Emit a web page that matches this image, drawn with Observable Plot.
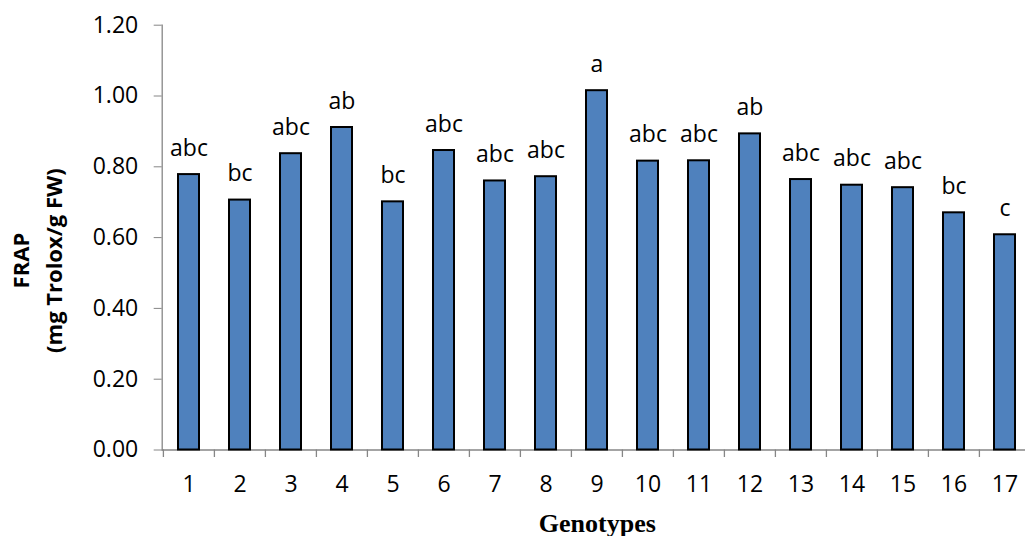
<!DOCTYPE html>
<html>
<head>
<meta charset="utf-8">
<script src="https://cdn.jsdelivr.net/npm/d3@7"></script>
<script src="https://cdn.jsdelivr.net/npm/@observablehq/plot@0.6"></script>
<style>
  html, body { margin: 0; padding: 0; background: #fff; }
  #chart svg { display: block; }
</style>
</head>
<body>
<div id="chart"></div>
<script>
const genotypes = ["1","2","3","4","5","6","7","8","9","10","11","12","13","14","15","16","17"];
const frap = [0.778, 0.706, 0.837, 0.911, 0.701, 0.846, 0.760, 0.772, 1.015, 0.816, 0.817, 0.893, 0.764, 0.748, 0.741, 0.670, 0.608];
const letters = ["abc","bc","abc","ab","bc","abc","abc","abc","a","abc","abc","ab","abc","abc","abc","bc","c"];
const yTicks = [0, 0.2, 0.4, 0.6, 0.8, 1.0, 1.2];
const yTitle1 = "FRAP";
const yTitle2 = "(mg Trolox/g FW)";
const xTitle = "Genotypes";

const data = genotypes.map((g, i) => ({g, v: frap[i], l: letters[i]}));

const W = 1025, H = 536;
const mL = 161.7, mR = -7, mT = 24.7, mB = 86.5;
const step = (W - mR - mL) / genotypes.length;
const gray = "#868686";

const chart = Plot.plot({
  width: W, height: H,
  marginLeft: mL, marginRight: mR, marginTop: mT, marginBottom: mB,
  style: {fontFamily: "'Open Sans', sans-serif", fontSize: "23px", color: "black", background: "white"},
  x: {domain: genotypes, paddingInner: 0.59, paddingOuter: 0.295, label: null},
  y: {domain: [0, 1.2], label: null},
  marks: [
    Plot.frame({anchor: "left", stroke: gray, strokeWidth: 1.3}),
    Plot.ruleY([0], {stroke: gray, strokeWidth: 1.3}),
    Plot.ruleX(genotypes, {x: d => d, y1: 0, y2: 0, insetBottom: -7.5, dx: -step / 2, stroke: gray, strokeWidth: 1.3}),
    Plot.axisY({ticks: yTicks, tickFormat: d3.format(".2f"), tickSize: 8, tickPadding: 16, stroke: gray, fill: "black", fontSize: 23, label: null}),
    Plot.axisX({tickSize: 0, tickPadding: 26, fill: "black", fontSize: 23, label: null}),
    Plot.barY(data, {x: "g", y: "v", fill: "#4F81BD", stroke: "black", strokeWidth: 2}),
    Plot.text(data, {x: "g", y: "v", text: "l", lineAnchor: "bottom", dy: -19, fontSize: 23, fill: "black"}),
    Plot.text([yTitle1], {frameAnchor: "left", textAnchor: "middle", lineAnchor: "middle", rotate: -90, dx: -140.7, dy: 23, fontWeight: "bold", fontSize: 22, fill: "black"}),
    Plot.text([yTitle2], {frameAnchor: "left", textAnchor: "middle", lineAnchor: "middle", rotate: -90, dx: -107.7, dy: 23, fontWeight: "bold", fontSize: 22, fill: "black"}),
    Plot.text([xTitle], {frameAnchor: "bottom", lineAnchor: "bottom", dy: 81.5, fontFamily: "'Liberation Serif', serif", fontWeight: "bold", fontSize: 26, fill: "black"})
  ]
});
document.getElementById("chart").appendChild(chart);
</script>
</body>
</html>
